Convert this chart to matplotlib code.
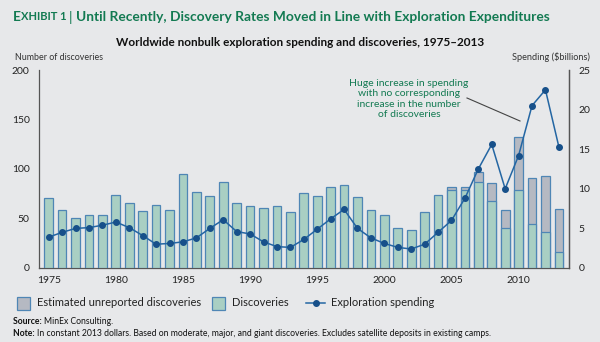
import matplotlib
matplotlib.use("Agg")
import matplotlib.pyplot as plt
from matplotlib.patches import Rectangle
from matplotlib.lines import Line2D

plt.rcParams['font.family'] = ['Lato', 'DejaVu Sans']

# data
years = list(range(1975, 2014))
discoveries = [71, 59, 50, 54, 54, 74, 66, 58, 64, 59,
               95, 77, 73, 87, 66, 63, 61, 63, 57, 76,
               73, 82, 84, 72, 59, 54, 40, 38, 57, 74,
               79, 79, 87, 68, 40, 79, 44, 36, 16]
unreported_total = [None] * 30 + [82, 82, 97, 86, 59, 132, 91, 93, 60]
spending = [3.9, 4.5, 5.0, 5.1, 5.4, 5.8, 5.1, 4.1, 3.0, 3.1,
            3.3, 3.8, 5.0, 6.1, 4.6, 4.3, 3.3, 2.7, 2.6, 3.6,
            4.9, 6.2, 7.4, 5.0, 3.8, 3.1, 2.6, 2.4, 3.0, 4.5,
            6.0, 8.8, 12.5, 15.6, 10.0, 14.2, 20.5, 22.5, 15.3]
xtick_years = [1975, 1980, 1985, 1990, 1995, 2000, 2005, 2010]

bg = '#e7e8ea'
teal = '#a9cfc3'
gray = '#b5b9c2'
edge = '#4f86b5'
navy = '#17508a'
linec = '#2466a3'
green = '#137a52'

W, H = 600, 342
fig = plt.figure(figsize=(6, 3.42), dpi=100, facecolor=bg)
ax = fig.add_axes([0.0655, 0.2164, 0.8825, 0.5789])
ax.set_facecolor(bg)


def px(x, y):
    return x / W, 1 - y / H


def runs(x, y, parts, **kw):
    # place text pieces one after another on a line
    fig.canvas.draw()
    r = fig.canvas.get_renderer()
    for s, opts in parts:
        style = dict(kw)
        style.update(opts)
        t = fig.text(x / W, 1 - y / H, s, va='center', **style)
        x = t.get_window_extent(renderer=r).x1


ux = [y for y, v in zip(years, unreported_total) if v is not None]
uv = [v for v in unreported_total if v is not None]
ax.bar(ux, uv, width=0.65, color=gray, edgecolor=edge, linewidth=0.9, zorder=2)
ax.bar(years, discoveries, width=0.65, color=teal, edgecolor=edge, linewidth=0.9, zorder=3)

ax.set_xlim(1974.3, 2013.74)
ax.set_ylim(0, 200)
ax.set_yticks([0, 50, 100, 150, 200])
ax.set_xticks(xtick_years)
ax.tick_params(length=0, labelsize=7.5, colors='#222222', pad=6)
ax.tick_params(axis='y', pad=7)
ax.spines['top'].set_visible(False)
for s in ['left', 'bottom', 'right']:
    ax.spines[s].set_color('#555555')
    ax.spines[s].set_linewidth(0.9)

ax2 = ax.twinx()
ax2.plot(years, spending, color=linec, linewidth=1.1, marker='o',
         markersize=4, markerfacecolor=navy, markeredgecolor=navy, zorder=5)
ax2.set_ylim(0, 25)
ax2.set_yticks([0, 5, 10, 15, 20, 25])
ax2.tick_params(length=0, labelsize=7.5, colors='#222222', pad=7)
for s in ['top', 'left', 'bottom']:
    ax2.spines[s].set_visible(False)
ax2.spines['right'].set_color('#555555')
ax2.spines['right'].set_linewidth(0.9)

# annotation
fig.text(409 / W, 1 - 99 / H, 'Huge increase in spending\nwith no corresponding\nincrease in the number\nof discoveries',
         ha='center', va='center', color=green, fontsize=7.5, linespacing=1.2)
fig.add_artist(Line2D([467 / W, 520 / W], [1 - 98 / H, 1 - 121 / H],
                      color='#444444', linewidth=0.8))

# titles
runs(13, 17, [('E', dict(fontsize=9.9)), ('XHIBIT 1 ', dict(fontsize=8)),
              ('| ', dict(fontsize=9.9, fontweight='normal')),
              ('Until Recently, Discovery Rates Moved in Line with Exploration Expenditures', dict(fontsize=9.9))],
     color=green, fontweight='bold')
fig.text(300 / W, 1 - 43 / H, 'Worldwide nonbulk exploration spending and discoveries, 1975\u20132013',
         ha='center', va='center', fontsize=8.5, fontweight='bold', color='#111111')
fig.text(15 / W, 1 - 57 / H, 'Number of discoveries', fontsize=6.4, color='#333333', va='center')
fig.text(590 / W, 1 - 57 / H, 'Spending ($billions)', fontsize=6.6, color='#333333', va='center', ha='right')

# legend
ly = 303
fig.add_artist(Rectangle(px(17, ly + 6.5), 13 / W, 13 / H, facecolor=gray, edgecolor=edge, linewidth=0.9))
fig.text(37 / W, 1 - ly / H, 'Estimated unreported discoveries', fontsize=8, va='center', color='#222222')
fig.add_artist(Rectangle(px(212, ly + 6.5), 13 / W, 13 / H, facecolor=teal, edgecolor=edge, linewidth=0.9))
fig.text(232 / W, 1 - ly / H, 'Discoveries', fontsize=8, va='center', color='#222222')
fig.add_artist(Line2D([306 / W, 325 / W], [1 - ly / H, 1 - ly / H], color=linec, linewidth=1.1))
fig.add_artist(Line2D([315.5 / W], [1 - ly / H], color=navy, marker='o', markersize=4))
fig.text(331 / W, 1 - ly / H, 'Exploration spending', fontsize=8, va='center', color='#222222')

runs(13, 322, [('Source: ', dict(fontweight='bold')), ('MinEx Consulting.', {})],
     fontsize=6.25, color='#111111')
runs(13, 334, [('Note: ', dict(fontweight='bold')),
               ('In constant 2013 dollars. Based on moderate, major, and giant discoveries. '
                'Excludes satellite deposits in existing camps.', {})],
     fontsize=6.25, color='#111111')

fig.savefig('out.png', dpi=100, facecolor=bg)
